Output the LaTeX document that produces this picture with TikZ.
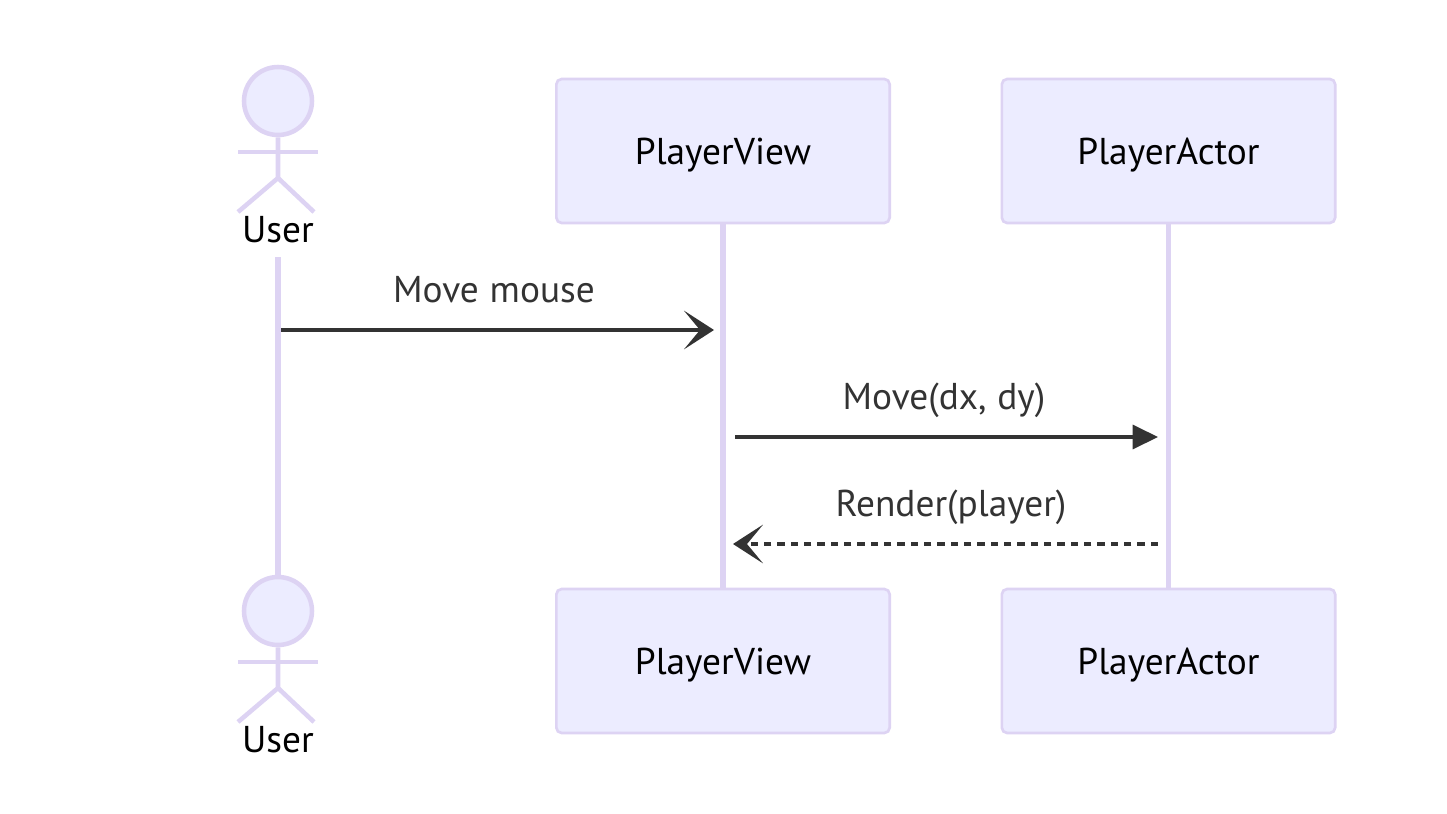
\documentclass[tikz,border=0pt]{standalone}
\usepackage{fontspec}
\setmainfont[WordSpace=1.1]{PT Sans}
\usetikzlibrary{positioning,arrows.meta}
\definecolor{actorline}{HTML}{DDD3F3}
\definecolor{actorfill}{HTML}{ECECFF}
\definecolor{msgcolor}{HTML}{333333}
\tikzset{
	box/.style = {draw = actorline, fill = actorfill, line width = 2pt, rounded corners = 4pt,
		minimum width = 250pt, minimum height = 108pt, inner sep = 0pt, text height = 24pt, text depth = 4.5pt,
		font = \fontsize{28}{32}\selectfont},
	head/.style = {draw = actorline, fill = actorfill, line width = 3.4pt, circle, minimum size = 51pt, inner sep = 0pt},
	stick/.style = {draw = actorline, line width = 3.4pt},
	life/.style = {draw = actorline, line width = 3.8pt},
	who/.style = {font = \fontsize{28}{32}\selectfont, text = black, inner sep = 0pt},
	msg/.style = {font = \fontsize{28}{32}\selectfont, text = msgcolor, inner sep = 0pt},
	call/.style = {draw = msgcolor, line width = 2.5pt},
	open tip/.style = {-{Stealth[length = 22.5pt, width = 29pt, inset = 12pt]}}
}
\begin{document}
\begin{tikzpicture}[x = 0.75pt, y = -0.75pt]
			\useasboundingbox (0,0) rectangle (1447,814);
			
			\node[head] (userTop) at (278,101) {};
			\node[head] (userBot) at (278,611) {};
			\node[box] (viewTop) at (723,151) {PlayerView};
			\node[box] (actorTop) at (1168.5,151) {PlayerActor};
			\node[box] (viewBot) at (723,661) {PlayerView};
			\node[box] (actorBot) at (1168.5,661) {PlayerActor};
			\node[who] (userTopText) at (278,230) {User};
			\node[who] (userBotText) at (278,740) {User};
			
			\draw[stick] (userTop.south) -- (278,178) -- (238,212);
			\draw[stick] (278,178) -- (314,212);
			\draw[stick] (238,152) -- (318,152);
			\draw[stick] (userBot.south) -- (278,688) -- (238,722);
			\draw[stick] (278,688) -- (314,722);
			\draw[stick] (238,662) -- (318,662);
			
			\coordinate (userStart) at (278,257);
			\draw[life] (userStart) -- (userBot.north);
			\draw[life] (viewTop.south) -- (viewBot.north);
			\draw[life] (actorTop.south) -- (actorBot.north);
			
			\coordinate (moveFrom) at (281,330);
			\coordinate (moveTo) at (714,330);
			\coordinate (callFrom) at (735,437);
			\coordinate (callTo) at (1158,437);
			\coordinate (renderFrom) at (1158,544);
			\coordinate (renderTo) at (733,544);
			
			\draw[call, open tip] (moveFrom) -- (moveTo);
			\draw[call, -{Triangle[length = 19pt, width = 18pt]}] (callFrom) -- (callTo);
			\draw[call, dash pattern = on 5.5pt off 4.5pt, open tip] (renderFrom) -- (renderTo);
			
			\node[msg] (moveText) at (494,290) {Move mouse};
			\node[msg] (callText) at (944,400) {Move(dx, dy)};
			\node[msg] (renderText) at (951,507) {Render(player)};
		
		\end{tikzpicture}
\end{document}
